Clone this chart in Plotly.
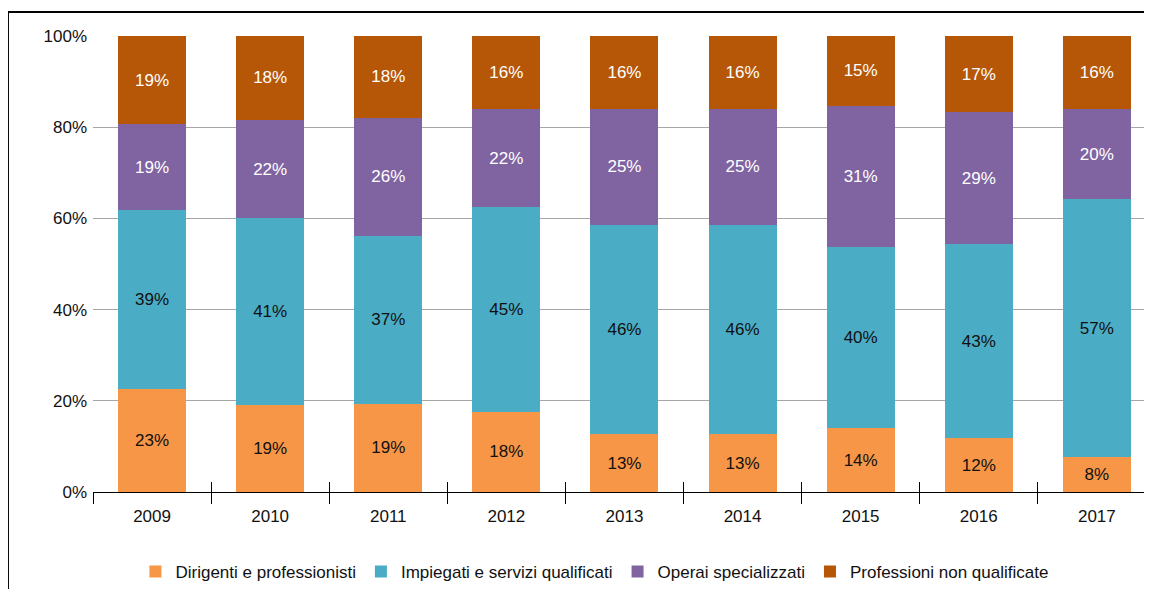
import plotly.graph_objects as go

years = ["2009", "2010", "2011", "2012", "2013", "2014", "2015", "2016", "2017"]
dirigenti = [22.6, 19.0, 19.3, 17.6, 12.7, 12.7, 14.0, 11.8, 7.6]
impiegati = [39.2, 41.0, 36.9, 44.8, 45.9, 45.9, 39.8, 42.6, 56.6]
operai = [18.8, 21.6, 25.9, 21.6, 25.4, 25.4, 30.9, 28.9, 19.7]
non_qualificate = [19.4, 18.4, 17.9, 16.0, 16.0, 16.0, 15.3, 16.7, 16.1]

series = [
    ("Dirigenti e professionisti", dirigenti, "#F79646", "#111111"),
    ("Impiegati e servizi qualificati", impiegati, "#4BACC6", "#111111"),
    ("Operai specializzati", operai, "#8064A2", "#FFFFFF"),
    ("Professioni non qualificate", non_qualificate, "#B65708", "#FFFFFF"),
]

FONT = "Liberation Sans, Arial, sans-serif"
FS = 17

fig = go.Figure()
for name, vals, color, tcolor in series:
    fig.add_trace(go.Bar(
        name=name, x=years, y=[v / 100 for v in vals],
        marker=dict(color=color, line=dict(width=0)),
        texttemplate="%{y:.0%}", textposition="inside",
        insidetextanchor="middle", textangle=0,
        textfont=dict(color=tcolor, size=FS, family=FONT),
        hoverinfo="skip",
    ))

# invisible trace for secondary axis (inward ticks)
fig.add_trace(go.Scatter(x=[0], y=[0], xaxis="x2", mode="markers",
                         marker=dict(opacity=0), showlegend=False, hoverinfo="skip"))

fig.update_layout(
    width=1152, height=589,
    margin=dict(l=85, r=8, t=28, b=104),
    paper_bgcolor="white", plot_bgcolor="white",
    barmode="stack", bargap=0.425,
    font=dict(family=FONT, size=FS, color="#111111"),
    xaxis=dict(
        type="category", range=[-0.5, 8.467],
        showline=True, linecolor="#000000", linewidth=1,
        ticks="outside", ticklen=11, tickcolor="#000000", tickwidth=1,
        tickson="boundaries", showgrid=False, ticklabelstandoff=9,
        tickfont=dict(size=FS, family=FONT, color="#111111"),
    ),
    xaxis2=dict(
        overlaying="x", range=[-0.5, 8.467], anchor="y",
        tickvals=[i - 0.5 for i in range(10)],
        ticks="inside", ticklen=10, tickcolor="#000000", tickwidth=1,
        showticklabels=False, showgrid=False, showline=False, zeroline=False,
        side="bottom",
    ),
    yaxis=dict(
        range=[0, 1], tickformat=".0%", dtick=0.2,
        showgrid=True, gridcolor="#A6A6A6", gridwidth=1,
        zeroline=False, showline=False, ticks="", ticklabelstandoff=5,
        tickfont=dict(size=FS, family=FONT, color="#111111"),
    ),
    legend=dict(
        orientation="h", x=0.4735, xanchor="center", y=-0.173, yanchor="middle",
        font=dict(size=FS, family=FONT, color="#111111"),
        traceorder="normal", itemwidth=30,
    ),
    shapes=[
        dict(type="line", xref="paper", yref="paper",
             x0=-0.0803, x1=1.01, y0=1.0525, y1=1.0525,
             line=dict(color="#000000", width=2)),
        dict(type="line", xref="paper", yref="paper",
             x0=-0.0803, x1=-0.0803, y0=1.0525, y1=-0.25,
             line=dict(color="#000000", width=2)),
    ],
)

fig.write_html("out.html")
